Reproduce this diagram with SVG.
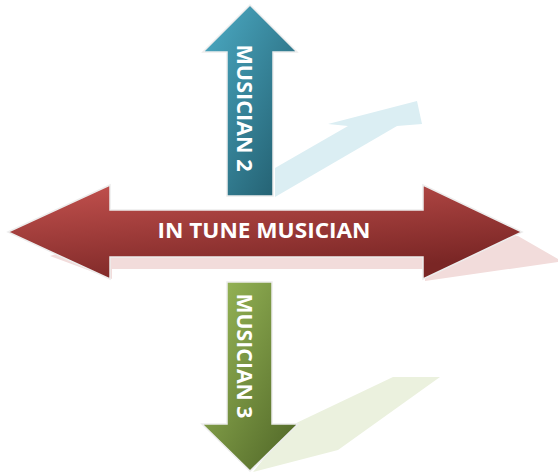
<svg xmlns="http://www.w3.org/2000/svg" width="558" height="473" viewBox="0 0 558 473">
  <defs>
    <linearGradient id="gTeal" x1="0" y1="0" x2="1" y2="1">
      <stop offset="0" stop-color="#4dadc7"/>
      <stop offset="1" stop-color="#1f5868"/>
    </linearGradient>
    <linearGradient id="gRed" x1="0" y1="0" x2="0.45" y2="1">
      <stop offset="0" stop-color="#c4524f"/>
      <stop offset="1" stop-color="#7a2625"/>
    </linearGradient>
    <linearGradient id="gGreen" x1="0" y1="0" x2="1" y2="1">
      <stop offset="0" stop-color="#9dbd5b"/>
      <stop offset="1" stop-color="#4d6325"/>
    </linearGradient>
  </defs>
  <style>
    .arrow { stroke: #ededed; stroke-width: 1.5; stroke-linejoin: miter; }
    .label { font-family: "Open Sans", "Liberation Sans", sans-serif; font-weight: bold; font-size: 21px; fill: #ffffff; text-anchor: middle; }
  </style>
  <g id="shadows">
    <polygon points="275,168 348,126 328,124 417,101 422,124 397,126 275,197" fill="#dbeef3"/>
    <polygon points="50,256 112,279 112,269 425,269 425,281 558,262 558,259 518,236 425,236 112,236" fill="#f2dcdb"/>
    <polygon points="290,426 393,377 440,377 338,450 253,472" fill="#ebf1de"/>
  </g>
  <g id="musician-2">
    <polygon class="arrow" points="250,5 297,52 273,52 273,196 227,196 227,52 203,52" fill="url(#gTeal)"/>
    <text class="label" transform="translate(237,108) rotate(90)" x="0" y="0" textLength="127" lengthAdjust="spacingAndGlyphs">MUSICIAN 2</text>
  </g>
  <g id="musician-3">
    <polygon class="arrow" points="227,282 272,282 272,424 298,424 250,471 202,424 227,424" fill="url(#gGreen)"/>
    <text class="label" transform="translate(237,356) rotate(90)" x="0" y="0" textLength="125" lengthAdjust="spacingAndGlyphs">MUSICIAN 3</text>
  </g>
  <g id="in-tune-musician">
    <polygon class="arrow" points="8,232 110,185 110,210 423,210 423,185 522,232 423,279 423,257 110,257 110,279" fill="url(#gRed)"/>
    <text class="label" x="264" y="238" textLength="213" lengthAdjust="spacingAndGlyphs">IN TUNE MUSICIAN</text>
  </g>
</svg>
